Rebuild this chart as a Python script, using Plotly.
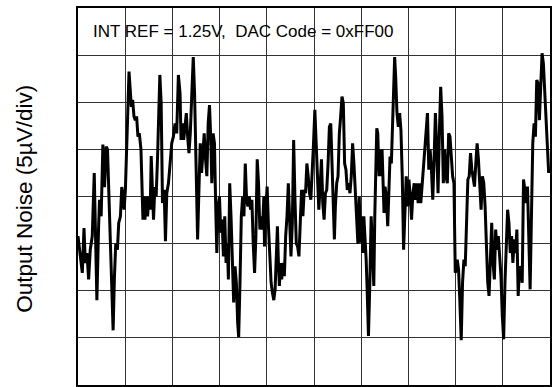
import plotly.graph_objects as go

# Time axis in divisions (10 div full scale), noise in divisions (5 uV/div, 8 div full scale)
time_div = [
    0.0, 0.049, 0.091, 0.127, 0.155, 0.19, 0.225, 0.26, 0.302, 0.344, 0.372, 0.40, 0.435, 0.456, 0.491,
    0.527, 0.562, 0.597, 0.625, 0.653, 0.681, 0.709, 0.744, 0.772, 0.80, 0.835, 0.863, 0.899, 0.927,
    0.948, 0.976, 1.004, 1.032, 1.06, 1.081, 1.102, 1.13, 1.158, 1.186, 1.214, 1.242, 1.27, 1.299,
    1.334, 1.355, 1.376, 1.397, 1.418, 1.446, 1.474, 1.502, 1.53, 1.551, 1.579, 1.60, 1.628, 1.656,
    1.684, 1.706, 1.734, 1.762, 1.79, 1.825, 1.853, 1.881,
    1.916, 1.951, 1.986, 2.021, 2.056, 2.091, 2.127, 2.162, 2.183, 2.211, 2.239, 2.267, 2.295, 2.323,
    2.351, 2.379, 2.414, 2.442, 2.47, 2.498, 2.534, 2.562, 2.59, 2.618, 2.646, 2.674, 2.702, 2.73,
    2.758, 2.786, 2.814, 2.835, 2.863, 2.891, 2.919, 2.941, 2.969, 2.997, 3.025, 3.053, 3.081, 3.109,
    3.137, 3.165, 3.186, 3.214, 3.242, 3.270, 3.298, 3.327, 3.355, 3.383, 3.404, 3.432, 3.46, 3.488,
    3.516, 3.544, 3.572, 3.6, 3.628, 3.656, 3.684, 3.712, 3.741, 3.769, 3.797, 3.825, 3.853, 3.881,
    3.909, 3.937,
    3.951, 3.979, 4.007, 4.035, 4.063, 4.091, 4.119, 4.148, 4.176, 4.204, 4.225, 4.246, 4.267, 4.288,
    4.316, 4.344, 4.372, 4.4, 4.428, 4.456, 4.484, 4.512, 4.541, 4.569, 4.597, 4.625, 4.653, 4.681,
    4.709, 4.737, 4.765, 4.793, 4.821, 4.849, 4.877, 4.905, 4.933, 4.962, 4.99, 5.018, 5.046, 5.074,
    5.102, 5.13, 5.158, 5.186, 5.214, 5.242, 5.270, 5.298, 5.326, 5.355, 5.383, 5.411, 5.432, 5.453,
    5.481, 5.509, 5.537, 5.565, 5.593, 5.621, 5.649, 5.677, 5.705, 5.733, 5.762, 5.79, 5.818, 5.846,
    5.874, 5.902, 5.93,
    5.958, 5.986, 6.014, 6.035, 6.056, 6.084, 6.105, 6.126, 6.154, 6.183, 6.211, 6.239, 6.267, 6.288,
    6.309, 6.330, 6.351, 6.379, 6.4, 6.421, 6.442, 6.463, 6.484, 6.505, 6.533, 6.562, 6.59, 6.611,
    6.639, 6.667, 6.688, 6.709, 6.73, 6.758, 6.786, 6.814, 6.842, 6.87, 6.898, 6.926, 6.954, 6.983,
    7.011, 7.039, 7.067, 7.095, 7.123, 7.151, 7.179, 7.207, 7.235, 7.263, 7.291, 7.319, 7.347, 7.376,
    7.404, 7.432, 7.46, 7.488, 7.516, 7.544, 7.572, 7.6, 7.628, 7.656, 7.684, 7.712, 7.74, 7.769,
    7.797, 7.825, 7.853, 7.881, 7.909, 7.937, 7.965, 7.993,
    8.007, 8.035, 8.063, 8.091, 8.119, 8.147, 8.176, 8.204, 8.232, 8.26, 8.288, 8.316, 8.344, 8.372,
    8.4, 8.428, 8.456, 8.484, 8.512, 8.54, 8.568, 8.597, 8.625, 8.653, 8.681, 8.709, 8.737, 8.765,
    8.793, 8.821, 8.849, 8.877, 8.905, 8.933, 8.961, 8.99, 9.018, 9.046, 9.074, 9.102, 9.13, 9.158,
    9.186, 9.214, 9.242, 9.270, 9.298, 9.326, 9.354, 9.383, 9.411, 9.439, 9.467, 9.495, 9.523, 9.551,
    9.579, 9.607, 9.635, 9.663, 9.691, 9.719, 9.747, 9.775, 9.804, 9.832, 9.86, 9.888, 9.916, 9.944,
    9.972,
]

noise_div = [
    3.16, 2.73, 2.38, 3.33, 2.59, 2.8, 2.24, 2.87, 3.16, 4.5, 3.09, 1.80, 3.3, 3.93, 3.58,
    5.1, 4.2, 5.06, 5.0, 4.14, 3.23, 2.3, 1.16, 2.3, 3.0, 2.87, 3.44, 3.58, 4.2,
    4.07, 3.72, 4.14, 5.0, 6.26, 6.65, 6.33, 5.9, 6.05, 5.7, 5.62, 5.7, 5.27, 5.34,
    5.0, 4.43, 3.51, 4.0, 3.51, 4.0, 3.58, 4.0, 3.72, 4.86, 4.14, 3.51, 4.2, 4.0,
    4.79, 5.7, 6.58, 5.98, 3.86, 4.14, 3.05, 4.07,
    4.28, 4.7, 5.13, 5.27, 5.55, 5.34, 6.58, 6.19, 5.2, 5.55, 5.2, 5.48, 5.77, 5.27,
    4.92, 5.34, 6.26, 6.96, 6.19, 4.64, 3.09, 4.14, 5.13, 4.5, 5.0, 5.34, 4.79, 4.43,
    5.55, 5.94, 5.2, 4.28, 5.34, 5.13, 3.72, 2.8, 3.79, 4.0, 3.23, 3.51, 2.73, 3.58,
    2.59, 3.0, 2.24, 4.28, 3.58, 2.59, 1.75, 2.52, 2.17, 1.32, 1.02, 2.17, 3.58, 4.0,
    3.58, 4.7, 3.93, 3.79, 4.0, 3.72, 3.93, 3.0, 2.38, 3.16, 4.79, 4.28, 3.3, 3.58,
    3.3, 4.0,
    2.94, 3.72, 4.21, 3.37, 2.87, 2.17, 1.96, 1.80, 2.03, 3.16, 3.37, 2.59, 2.1, 2.59,
    2.24, 2.59, 2.31, 3.16, 3.58, 4.28, 3.51, 2.73, 3.44, 5.2, 3.93, 3.0, 2.94, 2.73,
    3.44, 4.14, 3.58, 4.14, 4.07, 4.7, 4.43, 4.07, 3.93, 4.43, 5.13, 5.84, 5.2, 4.28,
    3.72, 4.21, 4.79, 3.86, 3.51, 4.07, 4.14, 4.7, 5.48, 5.55, 4.64, 3.58, 3.09, 3.79,
    4.28, 4.43, 5.34, 5.7, 6.12, 5.98, 4.7, 4.57, 4.14, 4.28, 4.07, 4.43, 5.13, 4.7,
    4.14, 3.58, 3.0,
    4.0, 3.02, 3.58, 2.8, 3.58, 3.16, 2.66, 2.03, 1.04, 2.17, 3.58, 2.87, 2.1, 3.58,
    4.7, 5.45, 5.34, 4.43, 5.0, 4.43, 5.0, 4.28, 3.65, 4.21, 4.0, 3.37, 4.28, 4.85,
    4.7, 5.7, 6.47, 6.96, 6.54, 5.77, 5.48, 5.77, 5.41, 4.43, 2.87, 3.58, 4.43, 3.79,
    4.36, 4.0, 3.51, 4.07, 4.28, 3.93, 4.28, 3.86, 4.28, 3.86, 4.28, 4.64, 5.0, 5.34,
    5.77, 4.57, 5.0, 4.57, 3.93, 4.79, 5.77, 5.0, 4.07, 5.34, 6.33, 5.7, 4.28, 5.0,
    4.43, 4.28, 5.34, 5.27, 4.79, 4.43, 4.28, 2.38,
    2.45, 2.66, 2.45, 1.75, 0.95, 2.17, 2.66, 2.52, 3.58, 4.36, 4.43, 4.92, 4.57, 4.36,
    4.21, 4.7, 5.13, 4.79, 4.36, 3.72, 4.43, 4.28, 3.79, 2.87, 2.17, 1.89, 2.73, 3.44,
    2.59, 2.24, 3.3, 2.87, 3.16, 2.8, 2.31, 1.46, 0.97, 2.17, 3.16, 3.72, 3.44, 2.8,
    3.16, 2.59, 3.09, 2.8, 3.3, 1.89, 2.52, 2.45, 2.17, 4.36, 4.14, 3.86, 4.21, 3.16,
    2.03, 3.58, 5.13, 5.55, 5.27, 6.47, 6.4, 5.62, 6.19, 7.04, 6.82, 6.19, 5.7, 5.06,
    4.5,
]

y_title = "Output Noise (5µV/div)"
note_text = "INT REF = 1.25V,  DAC Code = 0xFF00"

FONT = "Liberation Sans, Arial, sans-serif"

fig = go.Figure()
fig.add_trace(go.Scatter(
    x=time_div, y=noise_div, mode="lines",
    line=dict(color="black", width=3),
    showlegend=False, hoverinfo="skip",
))

axis_common = dict(
    showgrid=True, gridcolor="#333333", gridwidth=1,
    zeroline=False, showticklabels=False, ticks="",
    showline=True, linecolor="black", linewidth=2, mirror=True,
    dtick=1, tick0=0, fixedrange=True,
)
fig.update_xaxes(range=[0, 10], **axis_common)
fig.update_yaxes(range=[0, 8], **axis_common)

fig.add_shape(type="rect", xref="paper", yref="paper",
              x0=0, x1=0.683, y0=0.889, y1=0.979,
              fillcolor="white", line=dict(width=0), layer="between")

fig.add_annotation(text=note_text, xref="paper", yref="paper",
                   x=0.027, y=0.9377, xanchor="left", yanchor="middle",
                   showarrow=False, font=dict(family=FONT, size=17, color="black"))

fig.add_annotation(text=y_title, xref="paper", yref="paper",
                   x=-0.115, y=0.493, xanchor="center", yanchor="middle",
                   textangle=-90, showarrow=False,
                   font=dict(family=FONT, size=22.5, color="black"))

fig.update_layout(
    width=552, height=387,
    margin=dict(l=78, r=0, t=8, b=2),
    paper_bgcolor="white", plot_bgcolor="white",
    font=dict(family=FONT),
)

fig.write_html("out.html", config={"displayModeBar": False},
               post_script="document.body.style.margin='0';")
